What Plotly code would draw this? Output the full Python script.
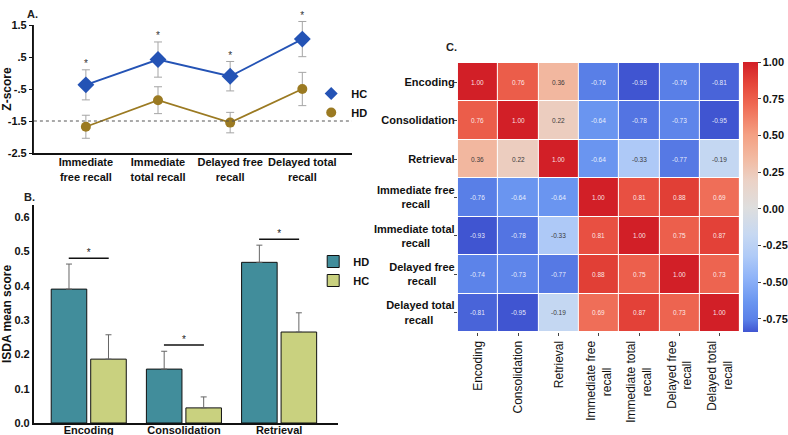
import plotly.graph_objects as go

W, H = 788, 435
FONT = "Arial, Liberation Sans, sans-serif"

# ---------------- Panel A data ----------------
tests = ["Immediate<br>free recall", "Immediate<br>total recall", "Delayed free<br>recall", "Delayed total<br>recall"]
hc_z = [-0.37, 0.42, -0.10, 1.06]
hc_err = [0.47, 0.55, 0.46, 0.55]
hd_z = [-1.68, -0.85, -1.55, -0.50]
hd_err = [0.36, 0.42, 0.32, 0.52]
a_ticks = [1.5, 0.5, -0.5, -1.5, -2.5]
a_ticktext = ["1.5", ".5", "-.5", "-1.5", "-2.5"]
cutoff = -1.5

# ---------------- Panel B data ----------------
stages = ["Encoding", "Consolidation", "Retrieval"]
hd_isda = [0.390, 0.157, 0.468]
hd_isda_err = [0.073, 0.052, 0.050]
hc_isda = [0.186, 0.044, 0.265]
hc_isda_err = [0.071, 0.032, 0.056]
sig_y = [0.480, 0.227, 0.535]
b_ticks = [0.0, 0.1, 0.2, 0.3, 0.4, 0.5, 0.6]

# ---------------- Panel C data ----------------
vars_c = ["Encoding", "Consolidation", "Retrieval", "Immediate free recall",
          "Immediate total recall", "Delayed free recall", "Delayed total recall"]
corr = [
    [1.00, 0.76, 0.36, -0.76, -0.93, -0.76, -0.81],
    [0.76, 1.00, 0.22, -0.64, -0.78, -0.73, -0.95],
    [0.36, 0.22, 1.00, -0.64, -0.33, -0.77, -0.19],
    [-0.76, -0.64, -0.64, 1.00, 0.81, 0.88, 0.69],
    [-0.93, -0.78, -0.33, 0.81, 1.00, 0.75, 0.87],
    [-0.74, -0.73, -0.77, 0.88, 0.75, 1.00, 0.73],
    [-0.81, -0.95, -0.19, 0.69, 0.87, 0.73, 1.00],
]
cb_ticks = [1.00, 0.75, 0.50, 0.25, 0.00, -0.25, -0.50, -0.75]

row_labels = ["Encoding", "Consolidation", "Retrieval", "Immediate free<br>recall" + "&nbsp;" * 8,
              "Immediate total<br>recall" + "&nbsp;" * 8, "Delayed free<br>recall" + "&nbsp;" * 6,
              "Delayed total<br>recall" + "&nbsp;" * 7]
col_labels = ["Encoding", "Consolidation", "Retrieval", "Immediate free<br>recall" + "&nbsp;" * 8,
              "Immediate total<br>recall" + "&nbsp;" * 8, "Delayed free<br>recall" + "&nbsp;" * 6,
              "Delayed total<br>recall" + "&nbsp;" * 6]

def px_x(p):
    return p / W

def px_y(p):
    return 1 - p / H

BLUE = "#2453B5"
GOLD = "#9B7A22"
TEAL = "#418D9B"
OLIVE = "#C9D17F"

# panel A vertical layout (pixels) and an overlay axis with identical scale
A_TOP, A_BOT, A_EXT_TOP = 25, 153, 4
a_lo, a_hi = -2.5, 1.5
a_scale = (a_hi - a_lo) / (A_BOT - A_TOP)
a_hi_ext = a_hi + (A_TOP - A_EXT_TOP) * a_scale

fig = go.Figure()

# Panel A
xa = list(range(len(tests)))
fig.add_trace(go.Scatter(
    x=xa, y=hc_z, mode="lines+markers", showlegend=False,
    line=dict(color=BLUE, width=1.8),
    marker=dict(symbol="diamond", size=13, color=BLUE),
    error_y=dict(type="data", array=hc_err, color="#A5A5A5", thickness=1, width=4),
    xaxis="x", yaxis="y4", cliponaxis=False))
fig.add_trace(go.Scatter(
    x=xa, y=hd_z, mode="lines+markers", showlegend=False,
    line=dict(color=GOLD, width=1.8),
    marker=dict(symbol="circle", size=10, color=GOLD),
    error_y=dict(type="data", array=hd_err, color="#A5A5A5", thickness=1, width=4),
    xaxis="x", yaxis="y4", cliponaxis=False))
fig.add_trace(go.Scatter(x=[None], y=[None], mode="markers", name="HC",
                         marker=dict(symbol="diamond", size=10, color=BLUE),
                         xaxis="x", yaxis="y", legend="legend"))
fig.add_trace(go.Scatter(x=[None], y=[None], mode="markers", name="HD",
                         marker=dict(symbol="circle", size=10, color=GOLD),
                         xaxis="x", yaxis="y", legend="legend"))
# significance stars panel A
fig.add_trace(go.Scatter(
    x=xa, y=[v + e for v, e in zip(hc_z, hc_err)], mode="text", text=["*"] * len(xa),
    textposition="top center", textfont=dict(family=FONT, size=10, color="#333"),
    showlegend=False, cliponaxis=False, hoverinfo="skip", xaxis="x", yaxis="y4"))

# Panel B
fig.add_trace(go.Bar(
    x=stages, y=hd_isda, name="HD", marker=dict(color=TEAL, line=dict(color="#111", width=1)),
    error_y=dict(type="data", symmetric=False, array=hd_isda_err, arrayminus=[0] * 3,
                 color="#666", thickness=1, width=3),
    xaxis="x2", yaxis="y2", legend="legend2"))
fig.add_trace(go.Bar(
    x=stages, y=hc_isda, name="HC", marker=dict(color=OLIVE, line=dict(color="#111", width=1)),
    error_y=dict(type="data", symmetric=False, array=hc_isda_err, arrayminus=[0] * 3,
                 color="#666", thickness=1, width=3),
    xaxis="x2", yaxis="y2", legend="legend2"))
fig.add_trace(go.Scatter(
    x=stages, y=sig_y, mode="text", text=["*"] * len(stages),
    textposition="top center", textfont=dict(family=FONT, size=10, color="#222"),
    showlegend=False, cliponaxis=False, hoverinfo="skip", xaxis="x2", yaxis="y2"))

# Panel C heatmap
colorscale = [
    [0.00, "#4055D1"],
    [0.02, "#4B68DB"],
    [0.045, "#5A80E8"],
    [0.11, "#6A95F0"],
    [0.20, "#8FB3F8"],
    [0.28, "#AFCAF7"],
    [0.36, "#C6D8F2"],
    [0.46, "#DEDEDE"],
    [0.56, "#EBD2C6"],
    [0.64, "#F2BBA3"],
    [0.73, "#F4A083"],
    [0.84, "#EF6A54"],
    [0.92, "#E5463A"],
    [1.00, "#D21F27"],
]
n = len(vars_c)
fig.add_trace(go.Heatmap(
    z=corr, x=list(range(n)), y=list(range(n)), zmin=-0.84, zmax=1.0,
    colorscale=colorscale, xgap=1, ygap=1, showscale=True,
    colorbar=dict(
        x=px_x(745), xanchor="left", xpad=0, thickness=15,
        len=270 / H, lenmode="fraction", y=px_y(62), yanchor="top", ypad=0,
        outlinewidth=0, tickvals=cb_ticks, ticktext=[f"{v:.2f}" for v in cb_ticks],
        tickfont=dict(family=FONT, size=11, color="#111", weight="bold"),
        ticks="outside", ticklen=3, tickcolor="#444"),
    xaxis="x3", yaxis="y3", hoverinfo="skip"))

annotations = []
# cell labels
for i in range(n):
    for j in range(n):
        v = corr[i][j]
        col = "#3a3a3a" if abs(v) < 0.4 else "rgba(255,255,255,0.88)"
        annotations.append(dict(x=j, y=i, xref="x3", yref="y3", text=f"{v:.2f}",
                                showarrow=False, font=dict(family=FONT, size=6.5, color=col)))
# panel letters
for txt, xx, yy in [("A.", 25, 14), ("B.", 22, 197), ("C.", 445, 47)]:
    annotations.append(dict(x=px_x(xx), y=px_y(yy), xref="paper", yref="paper", text=txt,
                            showarrow=False, xanchor="left", yanchor="middle",
                            font=dict(family=FONT, size=11, color="#222", weight="bold")))

shapes = [
    dict(type="line", xref="x", yref="y", x0=-0.72, x1=3.69, y0=cutoff, y1=cutoff,
         line=dict(color="#555", width=1, dash="dot")),
]
for k in range(len(stages)):
    shapes.append(dict(type="line", xref="x2", yref="y2", x0=k - 0.21, x1=k + 0.21,
                       y0=sig_y[k], y1=sig_y[k], line=dict(color="#111", width=1.5)))

bold11 = dict(family=FONT, size=11, color="#111", weight="bold")

fig.update_layout(
    width=W, height=H, autosize=False,
    margin=dict(l=0, r=0, t=0, b=0),
    paper_bgcolor="white", plot_bgcolor="white",
    font=dict(family=FONT),
    barmode="group", bargap=0.17, bargroupgap=0.1,
    annotations=annotations, shapes=shapes,
    xaxis=dict(domain=[px_x(34), px_x(353)], range=[-0.72, 3.69], anchor="y",
               tickvals=xa, ticktext=tests, tickfont=bold11, showgrid=False, zeroline=False,
               showline=True, linecolor="#111", linewidth=2, ticks="", automargin=False,
               ticklabelstandoff=-2),
    yaxis=dict(domain=[px_y(A_BOT), px_y(A_TOP)], range=[a_lo, a_hi], anchor="x",
               tickvals=a_ticks, ticktext=a_ticktext, tickfont=bold11, showgrid=False,
               zeroline=False, showline=True, linecolor="#111", linewidth=2,
               ticks="outside", ticklen=3, tickcolor="#111", automargin=False,
               title=dict(text="Z-score", font=dict(family=FONT, size=12, color="#111", weight="bold"),
                          standoff=4)),
    yaxis4=dict(domain=[px_y(A_BOT), px_y(A_EXT_TOP)], range=[a_lo, a_hi_ext], anchor="x",
                visible=False, showgrid=False, zeroline=False, automargin=False),
    xaxis2=dict(domain=[px_x(34), px_x(339)], range=[-0.576, 2.62], anchor="y2",
                tickfont=bold11, showgrid=False, zeroline=False, showline=True,
                linecolor="#111", linewidth=2, ticks="", automargin=False,
                ticklabelstandoff=-4),
    yaxis2=dict(domain=[px_y(423), px_y(205)], range=[0, 0.635], anchor="x2",
                tickvals=b_ticks, ticktext=[f"{v:.1f}" for v in b_ticks], tickfont=bold11,
                showgrid=False, zeroline=False, showline=True, linecolor="#111", linewidth=2,
                ticks="", automargin=False,
                title=dict(text="ISDA mean score", font=dict(family=FONT, size=12, color="#111", weight="bold"),
                           standoff=6)),
    xaxis3=dict(domain=[px_x(459), px_x(742)], range=[-0.5, n - 0.5], anchor="y3",
                tickvals=list(range(n)), ticktext=col_labels, tickangle=-90,
                tickfont=dict(family=FONT, size=12, color="#111"), showgrid=False,
                zeroline=False, showline=False, ticks="outside", ticklen=3, tickcolor="#444",
                automargin=False),
    yaxis3=dict(domain=[px_y(332), px_y(63)], range=[n - 0.5, -0.5], anchor="x3",
                tickvals=list(range(n)), ticktext=row_labels,
                tickfont=dict(family=FONT, size=11, color="#111", weight="bold"), showgrid=False,
                zeroline=False, showline=False, ticks="outside", ticklen=3, tickcolor="#444",
                automargin=False, ticklabelstandoff=-3),
    legend=dict(x=px_x(312), y=px_y(79), xanchor="left", yanchor="top",
                bgcolor="rgba(0,0,0,0)", font=bold11, itemwidth=30,
                tracegroupgap=0, itemclick=False),
    legend2=dict(x=px_x(314), y=px_y(247), xanchor="left", yanchor="top",
                 bgcolor="rgba(0,0,0,0)", font=bold11, itemwidth=30,
                 tracegroupgap=0, itemclick=False),
)

fig.write_html("out.html")
